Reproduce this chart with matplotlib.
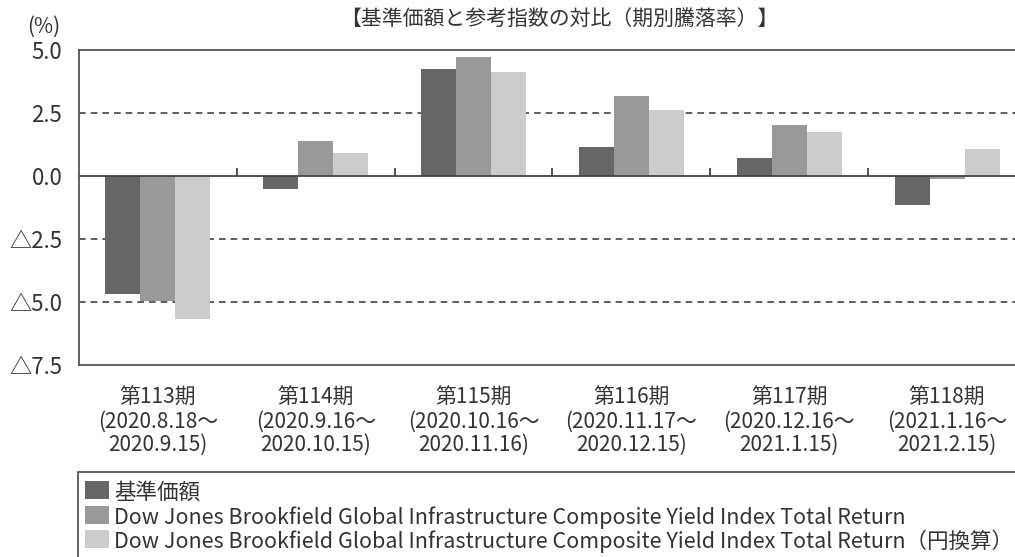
import matplotlib
matplotlib.use("Agg")
import matplotlib.pyplot as plt
from matplotlib.patches import Rectangle
import numpy as np

plt.rcParams['font.family'] = ['Noto Sans CJK JP', 'DejaVu Sans']

# 期別ラベル
kikan = ['第113期\n(2020.8.18～\n2020.9.15)',
         '第114期\n(2020.9.16～\n2020.10.15)',
         '第115期\n(2020.10.16～\n2020.11.16)',
         '第116期\n(2020.11.17～\n2020.12.15)',
         '第117期\n(2020.12.16～\n2021.1.15)',
         '第118期\n(2021.1.16～\n2021.2.15)']

# 騰落率（％）
kijun = [-4.68, -0.52, 4.25, 1.16, 0.70, -1.15]
sanko = [-4.98, 1.40, 4.74, 3.17, 2.02, -0.13]
sanko_yen = [-5.67, 0.90, 4.14, 2.62, 1.76, 1.08]

nombres = ['基準価額',
           'Dow Jones Brookfield Global Infrastructure Composite Yield Index Total Return',
           'Dow Jones Brookfield Global Infrastructure Composite Yield Index Total Return（円換算）']
colores = ['#666666', '#999999', '#cccccc']

yticks = [5.0, 2.5, 0.0, -2.5, -5.0, -7.5]
yticklabels = ['5.0', '2.5', '0.0', '△2.5', '△5.0', '△7.5']

texto = '#333333'
borde = '#555555'

fig = plt.figure(figsize=(10.15, 5.57), dpi=100)
ax = fig.add_axes([79 / 1015, 1 - 365 / 557, 947 / 1015, 315 / 557])

x = np.arange(len(kikan))
ancho = 0.222
for i, serie in enumerate([kijun, sanko, sanko_yen]):
    ax.bar(x + (i - 1) * ancho, serie, ancho, color=colores[i], zorder=3)

# Líneas de referencia
for y in [2.5, -2.5, -5.0]:
    ax.axhline(y, color='#444444', linestyle=(0, (4, 3)), linewidth=1.2, zorder=1)
ax.axhline(0, color='#444444', linewidth=1.3, zorder=4)
ax.vlines(np.arange(1, len(kikan)) - 0.5, 0, 0.3, color='#444444', linewidth=1.3, zorder=4)

ax.set_xlim(-0.5, len(kikan) - 0.5)
ax.set_ylim(-7.5, 5.0)
ax.set_yticks(yticks)
ax.set_yticklabels(yticklabels, fontsize=16, color=texto)
ax.set_xticks(x)
ax.set_xticklabels(kikan, fontsize=15, color=texto, linespacing=1.08)
ax.tick_params(axis='y', length=0, pad=12)
ax.tick_params(axis='x', length=0, pad=16)
for lado in ax.spines.values():
    lado.set_color(borde)
    lado.set_linewidth(1.3)

fig.text(44 / 1015, 1 - 27 / 557, '(%)', fontsize=15, ha='center', va='center', color=texto)
fig.text(559 / 1015, 1 - 20 / 557, '【基準価額と参考指数の対比（期別騰落率）】', fontsize=15,
         ha='center', va='center', color=texto)

# Leyenda
fig.patches.append(Rectangle((78 / 1015, -0.02), 0.99, 1 - 472 / 557 + 0.02,
                             transform=fig.transFigure, fill=False,
                             edgecolor=borde, linewidth=1.3))
filas = [490, 515, 539]
for nombre, color, fila in zip(nombres, colores, filas):
    fig.patches.append(Rectangle((85 / 1015, 1 - (fila + 9) / 557), 24 / 1015, 18 / 557,
                                 transform=fig.transFigure, facecolor=color, edgecolor='none'))
    fig.text(114 / 1015, 1 - fila / 557, nombre, fontsize=15.5, ha='left', va='center_baseline',
             color=texto)

fig.savefig('out.png', dpi=100)
